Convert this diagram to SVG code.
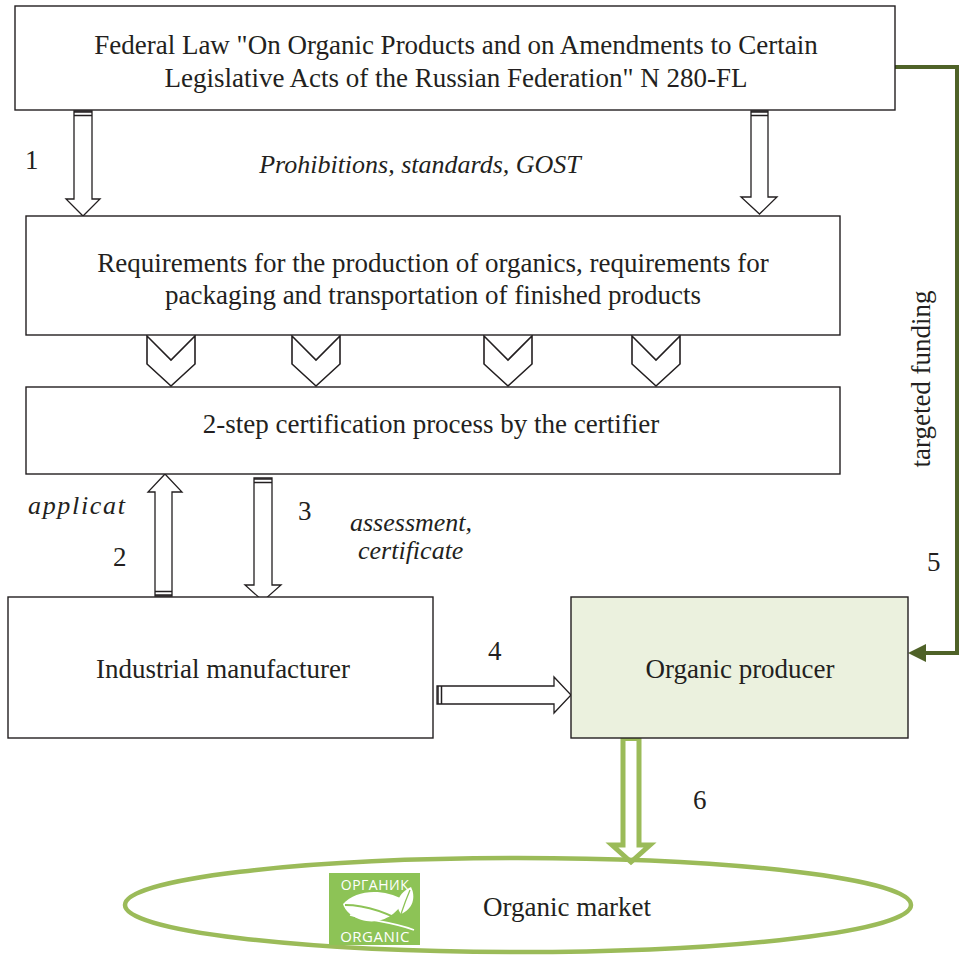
<svg xmlns="http://www.w3.org/2000/svg" width="959" height="956" viewBox="0 0 959 956">
<style>
.box{fill:#ffffff;stroke:#231f20;stroke-width:1.4}
.t{font-family:'Liberation Serif','Times New Roman',serif;font-size:27px;fill:#231f20}
.c{text-anchor:middle}
.i{font-style:italic;font-size:26px}
.ha{fill:#ffffff;stroke:#231f20;stroke-width:1.3;stroke-linejoin:miter}
.bar{stroke:#231f20;stroke-width:1.5}
.chev{fill:#ffffff;stroke:#231f20;stroke-width:1.6}
.lg{font-family:'Open Sans','DejaVu Sans',sans-serif;fill:#ffffff;text-anchor:middle}
</style>
<rect width="959" height="956" fill="#ffffff"/>

<g id="connectors">
  <polygon class="ha" points="74,111 92,111 92,199 100,199 83,216 66,199 74,199"/>
  <line class="bar" x1="74" y1="112" x2="92" y2="112" stroke-width="2.5"/>
  <line class="bar" x1="74" y1="115.5" x2="92" y2="115.5"/>
  <polygon class="ha" points="751,111 768,111 768,197 777,197 759.5,214 741,197 751,197"/>
  <line class="bar" x1="751" y1="112" x2="768" y2="112" stroke-width="2.5"/>
  <line class="bar" x1="751" y1="115.5" x2="768" y2="115.5"/>
  <polygon class="chev" points="147,336 171,360 195,336 195,364 171,386 147,364"/>
  <polygon class="chev" points="292,336 316,360 340,336 340,364 316,386 292,364"/>
  <polygon class="chev" points="484,336 508,360 532,336 532,364 508,386 484,364"/>
  <polygon class="chev" points="632,336 656,360 680,336 680,364 656,386 632,364"/>
  <polygon class="ha" points="155,596 172,596 172,492 182,492 165,474 148,492 155,492"/>
  <line class="bar" x1="155" y1="595" x2="172" y2="595" stroke-width="2.5"/>
  <line class="bar" x1="155" y1="591.5" x2="172" y2="591.5"/>
  <polygon class="ha" points="254,478 272,478 272,585 281,585 263,601 245,585 254,585"/>
  <line class="bar" x1="254" y1="479" x2="272" y2="479" stroke-width="2.5"/>
  <line class="bar" x1="254" y1="482.5" x2="272" y2="482.5"/>
  <polygon class="ha" points="437,686 554,686 554,677 571,695 554,713 554,704 437,704"/>
  <line class="bar" x1="438" y1="686" x2="438" y2="704" stroke-width="2.5"/>
  <line class="bar" x1="441.5" y1="686" x2="441.5" y2="704"/>
  <path d="M895,67 H957 V653 H922" fill="none" stroke="#4f6228" stroke-width="4"/>
  <polygon points="908,653 926,644 926,662" fill="#4f6228"/>
  <polygon points="623,738.5 639,738.5 639,845 650,845 631,862 612,845 623,845" fill="#ffffff" stroke="#9bbb59" stroke-width="5" stroke-linejoin="miter"/>
</g>

<g id="node-law">
  <rect class="box" x="15" y="6" width="880" height="104"/>
  <text class="t c" x="456" y="54">Federal Law "On Organic Products and on Amendments to Certain</text>
  <text class="t c" x="456" y="87">Legislative Acts of the Russian Federation" N 280-FL</text>
</g>

<g id="label-prohibitions">
  <text class="t i c" x="420" y="173">Prohibitions, standards, GOST</text>
  <text class="t" x="25" y="169">1</text>
</g>

<g id="node-requirements">
  <rect class="box" x="26" y="216" width="814" height="119"/>
  <text class="t c" x="433" y="272">Requirements for the production of organics, requirements for</text>
  <text class="t c" x="433" y="304">packaging and transportation of finished products</text>
</g>

<g id="node-certification">
  <rect class="box" x="26" y="387" width="814" height="87"/>
  <text class="t c" x="431" y="433">2-step certification process by the certifier</text>
</g>

<g id="labels">
  <text class="t i" x="28" y="514" textLength="97" lengthAdjust="spacing">applicat</text>
  <text class="t" x="113" y="566">2</text>
  <text class="t" x="298" y="520">3</text>
  <text class="t i" x="350" y="531">assessment,</text>
  <text class="t i" x="358" y="559">certificate</text>
  <text class="t" x="488" y="660">4</text>
  <text class="t" x="927" y="571">5</text>
  <text class="t" x="693" y="809">6</text>
  <text class="t c" transform="translate(930,379) rotate(-90)">targeted funding</text>
</g>

<g id="node-industrial">
  <rect class="box" x="8" y="597" width="425" height="141"/>
  <text class="t c" x="223" y="678">Industrial manufacturer</text>
</g>

<g id="node-organic-producer">
  <rect x="571" y="597" width="337" height="141" fill="#ebf1de" stroke="#231f20" stroke-width="1.4"/>
  <text class="t c" x="740" y="678">Organic producer</text>
</g>

<g id="node-organic-market">
  <ellipse cx="518" cy="905" rx="393" ry="47" fill="none" stroke="#9bbb59" stroke-width="4.5"/>
  <text class="t c" x="567" y="916">Organic market</text>
  <g id="logo">
    <rect x="329" y="873" width="91" height="72" fill="#8dc356"/>
    <text class="lg" x="375" y="890" font-size="14" letter-spacing="0.5">ОРГАНИК</text>
    <text class="lg" x="375" y="942" font-size="15" letter-spacing="0.5">ORGANIC</text>
    <path d="M343,904 C356,890 382,888 404,900 C396,918 372,930 350,914 C346,911 344,907 343,904 Z" fill="#ffffff"/>
    <path d="M345,905 C366,905 388,912 414,928" fill="none" stroke="#8dc356" stroke-width="2.2"/>
    <path d="M401,914 C394,905 398,893 411,887 C416,897 413,909 401,914 Z" fill="#ffffff"/>
    <path d="M401,914 C404,905 407,897 410,890" fill="none" stroke="#8dc356" stroke-width="1.3"/>
    <path d="M350,915 C372,921 394,922 414,930" fill="none" stroke="#ffffff" stroke-width="1.6"/>
  </g>
</g>
</svg>
